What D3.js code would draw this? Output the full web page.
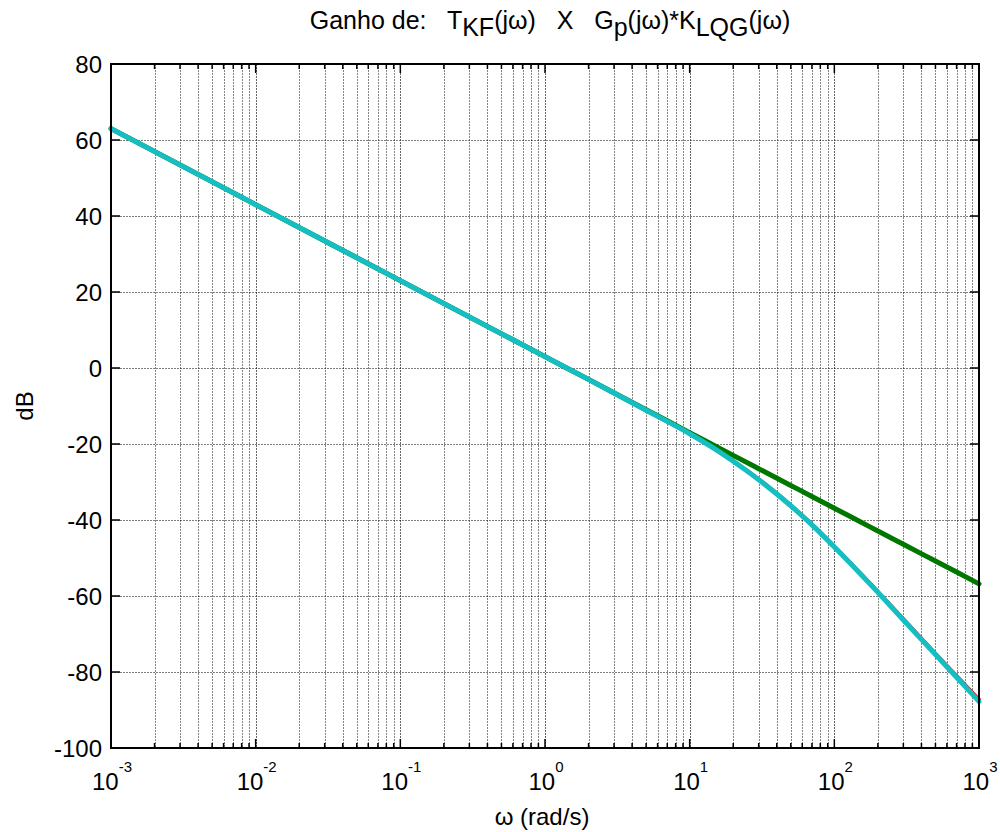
<!DOCTYPE html>
<html><head><meta charset="utf-8">
<script src="https://cdn.jsdelivr.net/npm/d3@7"></script>
<style>
body{margin:0;background:#fff;}
text{font-family:"Liberation Sans",Arial,Helvetica,sans-serif;fill:#000;}
</style></head>
<body><svg id="c" width="1000" height="832"></svg>
<script>
// Frequencies (rad/s)
const omega = [0.001, 0.01, 0.1, 1, 2, 5, 7, 10, 15, 20, 30, 50, 70, 100, 150, 200, 300, 500, 700, 1000];
// Series (dB)
const redSeries   = [63, 43, 23, 3, -3.0, -11.1, -14.05, -17.25, -21.3, -24.5, -29.3, -36.2, -41.2, -47.0, -53.9, -58.9, -66.1, -75.2, -81.1, -87.3];
const greenSeries = [63, 43, 23, 3, -3.0, -11.0, -13.9, -17.0, -20.5, -23.0, -26.5, -30.9, -33.8, -36.9, -40.4, -42.9, -46.4, -50.8, -53.7, -56.8];
const cyanSeries  = [63, 43, 23, 3, -3.0, -11.1, -14.05, -17.3, -21.35, -24.55, -29.4, -36.25, -41.3, -47.1, -54.0, -59.05, -66.3, -75.4, -81.4, -87.75];
const yTicks = [80, 60, 40, 20, 0, -20, -40, -60, -80, -100];
const xDecades = [-3, -2, -1, 0, 1, 2, 3];

const svg = d3.select("#c");
const L = 111, R = 979, T = 64, B = 748;
const x = d3.scaleLog().domain([1e-3, 1e3]).range([L, R]);
const y = d3.scaleLinear().domain([-100, 80]).range([B, T]);

const minors = [];
for (let d = -3; d < 3; d++) for (let k = 2; k <= 9; k++) minors.push(k * Math.pow(10, d));
const majors = xDecades.map(d => Math.pow(10, d));

const g = svg.append("g");
// grid (dotted)
g.selectAll(".vminor").data(minors).enter().append("line")
  .attr("x1", d => Math.round(x(d)) + 0.5).attr("x2", d => Math.round(x(d)) + 0.5).attr("y1", T).attr("y2", B)
  .attr("stroke", "#000").attr("stroke-opacity", 0.48).attr("stroke-width", 1)
  .attr("stroke-dasharray", "2,1");
g.selectAll(".vmajor").data(majors).enter().append("line")
  .attr("x1", d => Math.round(x(d)) + 0.5).attr("x2", d => Math.round(x(d)) + 0.5).attr("y1", T).attr("y2", B)
  .attr("stroke", "#000").attr("stroke-opacity", 0.6).attr("stroke-width", 1)
  .attr("stroke-dasharray", "2,1");
g.selectAll(".hgrid").data(yTicks).enter().append("line")
  .attr("x1", L).attr("x2", R).attr("y1", d => Math.round(y(d)) + 0.5).attr("y2", d => Math.round(y(d)) + 0.5)
  .attr("stroke", "#000").attr("stroke-opacity", 0.5).attr("stroke-width", 1)
  .attr("stroke-dasharray", "2,1");

// ticks inside
const tk = g.append("g").attr("stroke", "#000").attr("stroke-width", 1.5);
minors.forEach(v => {
  tk.append("line").attr("x1", x(v)).attr("x2", x(v)).attr("y1", B).attr("y2", B - 5);
  tk.append("line").attr("x1", x(v)).attr("x2", x(v)).attr("y1", T).attr("y2", T + 5);
});
majors.forEach(v => {
  tk.append("line").attr("x1", x(v)).attr("x2", x(v)).attr("y1", B).attr("y2", B - 9);
  tk.append("line").attr("x1", x(v)).attr("x2", x(v)).attr("y1", T).attr("y2", T + 9);
});
yTicks.forEach(v => {
  tk.append("line").attr("x1", L).attr("x2", L + 9).attr("y1", y(v)).attr("y2", y(v));
  tk.append("line").attr("x1", R).attr("x2", R - 9).attr("y1", y(v)).attr("y2", y(v));
});

// lines
const data = (arr) => omega.map((w, i) => [w, arr[i]]);
const line = d3.line().x(d => x(d[0])).y(d => y(d[1])).curve(d3.curveMonotoneX);
const lines = g.append("g").attr("fill", "none").attr("stroke-linejoin", "round").attr("stroke-linecap", "round");
lines.append("path").attr("d", line(data(redSeries))).attr("stroke", "#ff0000").attr("stroke-width", 4);
lines.append("path").attr("d", line(data(greenSeries))).attr("stroke", "#007800").attr("stroke-width", 5);
lines.append("path").attr("d", line(data(cyanSeries))).attr("stroke", "#14bfc4").attr("stroke-width", 5);

// box
g.append("rect").attr("x", L).attr("y", T).attr("width", R - L).attr("height", B - T)
  .attr("fill", "none").attr("stroke", "#000").attr("stroke-width", 2);

// y tick labels
svg.selectAll(".yl").data(yTicks).enter().append("text")
  .attr("x", L - 9).attr("y", d => y(d)).attr("dy", "0.36em")
  .attr("text-anchor", "end").attr("font-size", 24).text(d => d);

// x tick labels
xDecades.forEach(d => {
  const t = svg.append("text").attr("x", x(Math.pow(10, d)) + 1).attr("y", 790)
    .attr("text-anchor", "middle").attr("font-size", 24);
  t.append("tspan").text("10");
  t.append("tspan").attr("dy", -18).attr("font-size", 15).text(d);
});

// axis labels
svg.append("text").attr("x", 542).attr("y", 825).attr("text-anchor", "middle")
  .attr("font-size", 24).text("ω (rad/s)");
svg.append("text").attr("transform", `translate(33,${(T + B) / 2}) rotate(-90)`)
  .attr("text-anchor", "middle").attr("font-size", 24).text("dB");

// title
const tt = svg.append("text").attr("x", 550).attr("y", 29).attr("text-anchor", "middle")
  .attr("font-size", 25).attr("xml:space", "preserve");
const parts = [
  ["Ganho de:   T", 0], ["KF", 1], ["(jω)   X   G", 0], ["p", 1], ["(jω)*K", 0], ["LQG", 1], ["(jω)", 0]
];
let cur = 0;
parts.forEach(([s, sub]) => {
  const target = sub ? 7 : 0;
  tt.append("tspan").attr("dy", target - cur).text(s);
  cur = target;
});
</script></body></html>
